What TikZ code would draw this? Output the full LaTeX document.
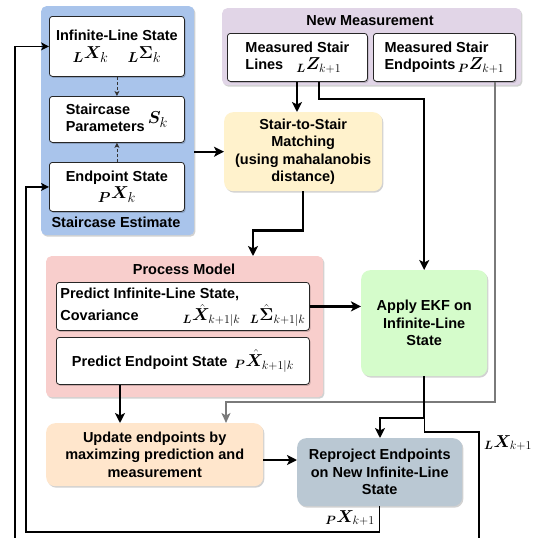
\documentclass[tikz,border=0pt]{standalone}
\usepackage{amsmath}
\usepackage{bm}
\usepackage{fontspec}
\setmainfont{Liberation Sans}
\usetikzlibrary{arrows.meta,shadows}
\definecolor{cblue}{HTML}{A9C4EB}
\definecolor{cpurple}{HTML}{E1D5E7}
\definecolor{cyellow}{HTML}{FFF2CC}
\definecolor{cred}{HTML}{F8CECC}
\definecolor{cgreen}{HTML}{D5FCCB}
\definecolor{corange}{HTML}{FFE6CC}
\definecolor{cslate}{HTML}{BAC8D3}
\definecolor{cgray}{HTML}{7A7A7A}
\newcommand\mth[2][17]{{\fontsize{#1}{#1}\selectfont$#2$}}
\tikzset{
  shad/.style={drop shadow={shadow xshift=1.2pt,shadow yshift=-1.5pt,opacity=0.18,fill=black}},
  cont/.style={rounded corners=5pt,draw=none,shad,anchor=north west,inner sep=0pt},
  wbox/.style={fill=white,draw=black!85,line width=0.8pt,rounded corners=3pt,shad,anchor=north west,inner sep=0pt,align=center},
  cbox/.style={rounded corners=9pt,draw=none,shad,anchor=north west,inner sep=0pt,align=center},
  lbl/.style={inner sep=0pt},
  thk/.style={line width=2.4pt,-{Stealth[length=10pt,width=10pt,inset=2.5pt]}},
  thn/.style={line width=1.2pt},
  thnA/.style={line width=1.2pt,-{Stealth[length=8pt,width=8pt,inset=2pt]}},
  gry/.style={line width=1.4pt,draw=cgray,-{Stealth[length=10pt,width=9pt,inset=2.5pt]}},
  dsh/.style={line width=0.7pt,densely dashed,draw=black!80,-{Stealth[length=5pt,width=5pt,inset=1.2pt]}},
}
\begin{document}
\begin{tikzpicture}[x=1pt,y=-1pt,font=\fontsize{14.5}{17.5}\selectfont\bfseries]
\useasboundingbox (0,0) rectangle (550,538);
% containers
\node[cont,fill=cblue,minimum width=153,minimum height=229] (est) at (41,6) {};
\node[cont,fill=cpurple,minimum width=299,minimum height=77] (meas) at (222,8) {};
\node[cont,fill=cred,minimum width=277,minimum height=141] (proc) at (46,256) {};
\node[lbl] (estlbl) at (116,222) {Staircase Estimate};
\node[lbl] (measlbl) at (370,21) {New Measurement};
\node[lbl] (proclbl) at (184,269) {Process Model};
% staircase estimate boxes
\node[wbox,minimum width=135,minimum height=60] (ils) at (49,16)
  {Infinite-Line State\\[1pt] \mth[19]{{}_{\bm L}\bm X_k\quad {}_{\bm L}\bm \Sigma_k}};
\node[wbox,minimum width=135,minimum height=46] (sp) at (49,96)
  {\begin{tabular}{@{}l@{}}Staircase\\Parameters\end{tabular}\hspace{3pt}\mth[19]{\bm S_k}};
\node[wbox,minimum width=135,minimum height=49] (eps) at (49,162)
  {Endpoint State\\ \mth[19]{{}_{\bm P}\bm X_k}};
% measurement boxes
\node[wbox,minimum width=140,minimum height=48] (msl) at (227,33)
  {\begin{tabular}{@{}l@{}}Measured Stair\\Lines\hspace{13pt}\mth{{}_{\bm L}\bm Z_{k+1}}\end{tabular}};
\node[wbox,minimum width=142,minimum height=48] (mse) at (373,33)
  {\begin{tabular}{@{}l@{}}Measured Stair\\Endpoints\,\mth{{}_{\bm P}\bm Z_{k+1}}\end{tabular}};
% matching
\node[cbox,fill=cyellow,minimum width=158,minimum height=79] (match) at (224,112)
  {Stair-to-Stair\\Matching\\(using mahalanobis\\distance)};
% process model boxes
\node[wbox,minimum width=253,minimum height=48] (pil) at (56,282)
  {\begin{tabular}{@{}l@{}}Predict Infinite-Line State,\\[1pt]\makebox[245pt][l]{Covariance\hfill\mth{{}_{\bm L}\hat{\bm X}_{k+1|k}\;\;{}_{\bm L}\hat{\bm \Sigma}_{k+1|k}}}\end{tabular}};
\node[wbox,minimum width=253,minimum height=47] (pes) at (56,337)
  {Predict Endpoint State\hspace{7pt}\mth{{}_{\bm P}\hat{\bm X}_{k+1|k}}};
% EKF
\node[cbox,fill=cgreen,minimum width=126,minimum height=106] (ekf) at (361,270)
  {Apply EKF on\\Infinite-Line\\State};
% update
\node[cbox,fill=corange,minimum width=217,minimum height=63] (upd) at (46,423)
  {Update endpoints by\\maximzing prediction and\\measurement};
% reproject
\node[cbox,fill=cslate,minimum width=165,minimum height=68] (rep) at (297,438)
  {Reproject Endpoints\\on New Infinite-Line\\State};
% output labels
\node[lbl] (lx) at (508,443) {\mth{{}_{\bm L}\bm X_{k+1}}};
\node[lbl] (px) at (350,518) {\mth{{}_{\bm P}\bm X_{k+1}}};
% helper coordinates
\coordinate (x1) at (297,0);
\coordinate (x2) at (319,0);
\coordinate (x4) at (226,0);
\coordinate (x5) at (495,0);
\coordinate (c402) at (0,402);
\coordinate (x6) at (303,0);
\coordinate (x7) at (253,0);
\coordinate (x8) at (120,0);
\coordinate (x9) at (380,0);
\coordinate (c418) at (0,418);
\coordinate (c460) at (0,460);
\coordinate (bot1) at (479,538);
\coordinate (bot2) at (15,538);
\coordinate (c26b) at (26,532);
% connectors
\draw[dsh] (ils.south) -- (sp.north);
\draw[dsh] (eps.north) -- (sp.south);
\draw[thk] (est.east |- match.west) -- (match.west);
\draw[thk] (msl.south -| x1) -- (match.north -| x1);
\draw[thk] (msl.south -| x2) -- ++(0,17) -| (ekf.north);
\draw[gry] (mse.south -| x5) -- (x5 |- c402) -| (upd.north -| x4);
\draw[thk] (match.south -| x6) -- ++(0,39) -| (proc.north -| x7);
\draw[thk] (pil.east) -- (ekf.west |- pil.east);
\draw[thk] (pes.south -| x8) -- (upd.north -| x8);
\draw[thk] (upd.east |- c460) -- (rep.west |- c460);
\draw[thk] (ekf.south) -- (ekf.south |- c418) -| (rep.north -| x9);
\draw[thn] (ekf.south |- c418) -- ++(0,14) -| (bot1);
\draw[thnA] (rep.south) |- (c26b) |- (eps.west);
\draw[thnA] (bot2) |- (ils.west);
\end{tikzpicture}
\end{document}
